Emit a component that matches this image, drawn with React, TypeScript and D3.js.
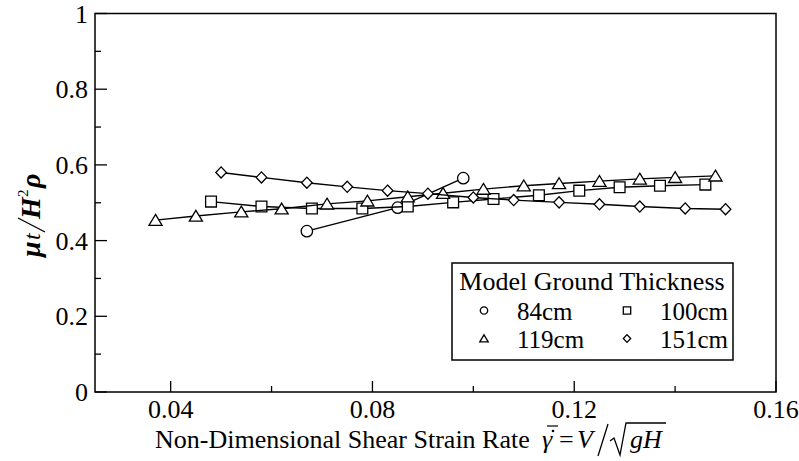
import React from "react";
import * as d3 from "d3";

// ---------- data ----------
const circleX = [0.067, 0.085, 0.098];
const circleY = [0.425, 0.487, 0.565];

const squareX = [0.048, 0.058, 0.068, 0.078, 0.087, 0.096, 0.104, 0.113, 0.121, 0.129, 0.137, 0.146];
const squareY = [0.503, 0.49, 0.485, 0.485, 0.49, 0.501, 0.51, 0.52, 0.532, 0.541, 0.545, 0.548];

const triX = [0.037, 0.045, 0.054, 0.062, 0.071, 0.079, 0.087, 0.094, 0.102, 0.11, 0.117, 0.125, 0.133, 0.14, 0.148];
const triY = [0.454, 0.465, 0.476, 0.484, 0.497, 0.505, 0.516, 0.525, 0.536, 0.545, 0.551, 0.557, 0.563, 0.567, 0.571];

const diaX = [0.05, 0.058, 0.067, 0.075, 0.083, 0.091, 0.1, 0.108, 0.117, 0.125, 0.133, 0.142, 0.15];
const diaY = [0.58, 0.567, 0.553, 0.542, 0.532, 0.524, 0.514, 0.507, 0.501, 0.496, 0.49, 0.485, 0.483];

const xMajorTicks = [0.04, 0.08, 0.12, 0.16];
const xTickLabels = ["0.04", "0.08", "0.12", "0.16"];
const xMinorTicks = [0.06, 0.1, 0.14];
const yMajorTicks = [0, 0.2, 0.4, 0.6, 0.8, 1];
const yTickLabels = ["0", "0.2", "0.4", "0.6", "0.8", "1"];
const yMinorTicks = [0.1, 0.3, 0.5, 0.7, 0.9];

const legendTitle = "Model Ground Thickness";
const legendLabels = ["84cm", "100cm", "119cm", "151cm"];
const legendShapes = ["circle", "square", "triangle", "diamond"];

const FONT = '"Liberation Serif", "Times New Roman", serif';

function markerPath(shape: string, s: number): string {
  switch (shape) {
    case "circle":
      return `M${s},0A${s},${s} 0 1,1 ${-s},0A${s},${s} 0 1,1 ${s},0Z`;
    case "square":
      return `M${-s},${-s}H${s}V${s}H${-s}Z`;
    case "triangle":
      return `M0,${-s}L${s * 1.15},${s * 0.9}H${-s * 1.15}Z`;
    case "diamond":
      return `M0,${-s * 1.05}L${s},0L0,${s * 1.05}L${-s},0Z`;
  }
  return "";
}

export default function App() {
  const W = 799;
  const Hh = 461;
  const x = d3.scaleLinear().domain([0.025, 0.16]).range([95, 776]);
  const y = d3.scaleLinear().domain([0, 1]).range([392, 13.5]);
  const line = d3
    .line<[number, number]>()
    .x((d) => x(d[0]))
    .y((d) => y(d[1]));

  const series = [
    { xs: circleX, ys: circleY, shape: "circle", size: 5.7 },
    { xs: squareX, ys: squareY, shape: "square", size: 5.4 },
    { xs: triX, ys: triY, shape: "triangle", size: 5.7 },
    { xs: diaX, ys: diaY, shape: "diamond", size: 5.3 },
  ];

  const x0 = x.range()[0];
  const x1 = x.range()[1];
  const y0 = y.range()[0];
  const y1 = y.range()[1];
  const txt = { fontFamily: FONT };

  return (
    <svg
      width={W}
      height={Hh}
      style={{ position: "absolute", left: 0, top: 0, background: "#fff", fontFamily: FONT }}
    >
      {series.map((s, i) => {
        const pts: [number, number][] = s.xs.map((v, j) => [v, s.ys[j]]);
        return (
          <g key={i}>
            <path d={line(pts) || ""} fill="none" stroke="#000" strokeWidth={1.4} />
            {pts.map((p, j) => (
              <path
                key={j}
                d={markerPath(s.shape, s.size)}
                transform={`translate(${x(p[0])},${y(p[1])})`}
                fill="#fff"
                stroke="#000"
                strokeWidth={1.3}
              />
            ))}
          </g>
        );
      })}

      <rect x={x0} y={y1} width={x1 - x0} height={y0 - y1} fill="none" stroke="#000" strokeWidth={1.5} />

      {xMajorTicks.map((t, i) => (
        <g key={"xm" + i}>
          <line x1={x(t)} x2={x(t)} y1={y0} y2={y0 - 11} stroke="#000" strokeWidth={1.3} />
          <text x={x(t)} y={418} textAnchor="middle" fontSize={26} style={txt}>
            {xTickLabels[i]}
          </text>
        </g>
      ))}
      {xMinorTicks.map((t, i) => (
        <line key={"xn" + i} x1={x(t)} x2={x(t)} y1={y0} y2={y0 - 6} stroke="#000" strokeWidth={1.3} />
      ))}

      {yMajorTicks.map((t, i) => (
        <g key={"ym" + i}>
          <line x1={x0} x2={x0 + 12} y1={y(t)} y2={y(t)} stroke="#000" strokeWidth={1.3} />
          <text x={88} y={y(t) + 9} textAnchor="end" fontSize={26} style={txt}>
            {yTickLabels[i]}
          </text>
        </g>
      ))}
      {yMinorTicks.map((t, i) => (
        <line key={"yn" + i} x1={x0} x2={x0 + 6} y1={y(t)} y2={y(t)} stroke="#000" strokeWidth={1.3} />
      ))}

      <rect x={452} y={263} width={281} height={97} fill="#fff" stroke="#000" strokeWidth={1.5} />
      <text x={592} y={290} textAnchor="middle" fontSize={26} style={txt}>
        {legendTitle}
      </text>
      {legendLabels.map((lab, i) => {
        const col = i % 2;
        const row = Math.floor(i / 2);
        const ty = row === 0 ? 320 : 348;
        const sx = col === 0 ? 484 : 627;
        const sy = ty - 9.5;
        const tx = col === 0 ? 517 : 660;
        return (
          <g key={"lg" + i}>
            <path
              d={markerPath(legendShapes[i], 3.7)}
              transform={`translate(${sx},${sy})`}
              fill="#fff"
              stroke="#000"
              strokeWidth={1.3}
            />
            <text x={tx} y={ty} fontSize={25} style={txt}>
              {lab}
            </text>
          </g>
        );
      })}

      <text x={155} y={448} fontSize={26} style={txt}>
        Non-Dimensional Shear Strain Rate
      </text>
      <text x={542} y={448} fontSize={26} fontStyle="italic" style={txt}>
        γ
      </text>
      <line x1={547} x2={558} y1={426} y2={426} stroke="#000" strokeWidth={1.2} />
      <circle cx={553} cy={431} r={1.3} fill="#000" />
      <text x={559} y={448} fontSize={26} style={txt}>
        =
      </text>
      <text x={577} y={448} fontSize={26} fontStyle="italic" style={txt}>
        V
      </text>
      <line x1={598} x2={608} y1={456} y2={424} stroke="#000" strokeWidth={1.3} />
      <path d="M610,441 L614,438 L620,455 L626,423 L666,423" fill="none" stroke="#000" strokeWidth={1.3} />
      <text x={630} y={448} fontSize={26} fontStyle="italic" style={txt}>
        gH
      </text>

      <g transform="translate(40,213) rotate(-90)">
        <text x={-44} y={0} fontSize={28} fontStyle="italic" fontWeight="bold" style={txt}>
          μ
        </text>
        <text x={-27} y={0} fontSize={24} fontStyle="italic" style={txt}>
          t
        </text>
        <line x1={-19} x2={-5} y1={5} y2={-22} stroke="#000" strokeWidth={1.4} />
        <text x={-6} y={0} fontSize={28} fontStyle="italic" fontWeight="bold" style={txt}>
          H
        </text>
        <text x={16} y={-12} fontSize={15} style={txt}>
          2
        </text>
        <text x={25} y={0} fontSize={28} fontStyle="italic" fontWeight="bold" style={txt}>
          ρ
        </text>
      </g>
    </svg>
  );
}
